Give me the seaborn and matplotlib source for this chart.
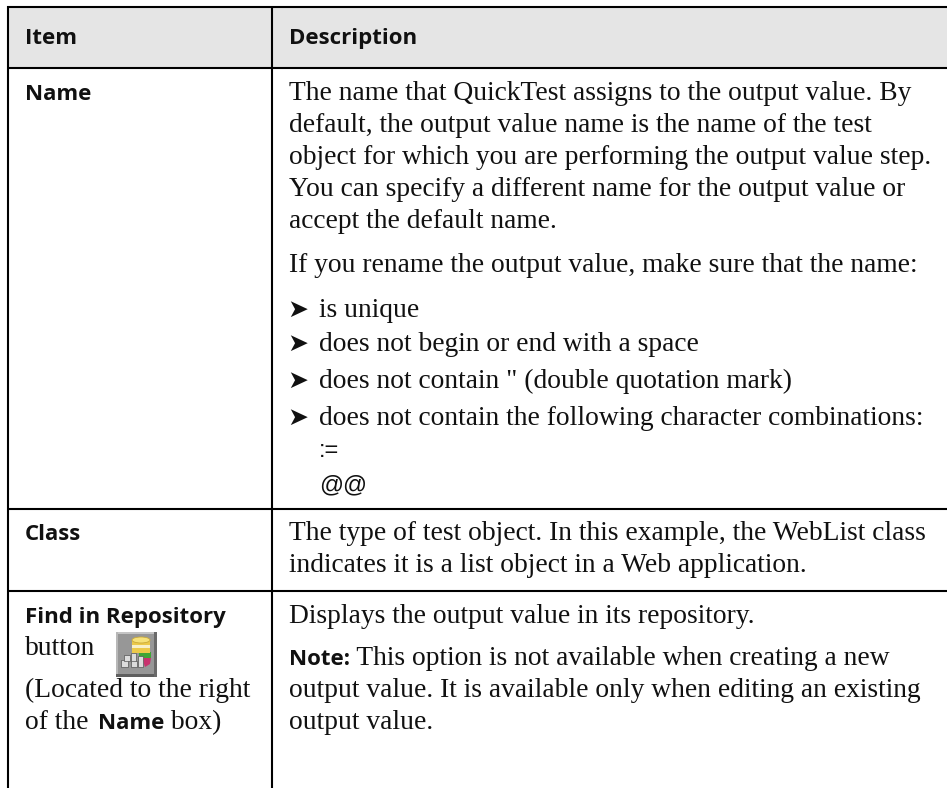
import matplotlib
matplotlib.use("Agg")
import matplotlib.pyplot as plt
from matplotlib.patches import Rectangle, Ellipse, Polygon
import seaborn as sns

# ---- table content ----
header_items = ["Item", "Description"]
name_desc = [
    "The name that QuickTest assigns to the output value. By",
    "default, the output value name is the name of the test",
    "object for which you are performing the output value step.",
    "You can specify a different name for the output value or",
    "accept the default name.",
]
rename_intro = "If you rename the output value, make sure that the name:"
rename_rules = [
    "is unique",
    "does not begin or end with a space",
    'does not contain " (double quotation mark)',
    "does not contain the following character combinations:",
]
rename_chars = [":=", "@@"]
class_desc = [
    "The type of test object. In this example, the WebList class",
    "indicates it is a list object in a Web application.",
]
find_desc = "Displays the output value in its repository."
note_label = "Note:"
note_lines = [
    " This option is not available when creating a new",
    "output value. It is available only when editing an existing",
    "output value.",
]

# ---- layout (pixels) ----
W, H = 947, 788
SERIF = "Liberation Serif"
SANS = "Open Sans"
BODY = 19.8
LABEL = 16.0

sns.set_theme(style="white")
fig = plt.figure(figsize=(W / 100, H / 100), dpi=100)
ax = fig.add_axes([0, 0, 1, 1])
ax.set_xlim(0, W)
ax.set_ylim(H, 0)
ax.axis("off")

ax.add_patch(Rectangle((8, 7), W - 8, 61, fc="#e5e5e5", ec="none", zorder=0))
lc = "#000000"
lw = 1.5
for y in (7, 68, 508.5, 591):
    ax.plot([7, W], [y, y], color=lc, lw=lw, solid_capstyle="butt")
for x in (8, 272):
    ax.plot([x, x], [6, H], color=lc, lw=lw, solid_capstyle="butt")


def serif(x, y, s, size=BODY):
    return ax.text(x, y, s, family=SERIF, size=size, color="#111111", va="baseline")


def bold(x, y, s, size=LABEL):
    return ax.text(x, y, s, family=SANS, weight="bold", size=size, color="#111111", va="baseline")


def after(t):
    fig.canvas.draw()
    return t.get_window_extent().x1


def icon():
    ax.add_patch(Rectangle((116, 632), 41, 45, fc="#979797", ec="none"))
    ax.add_patch(Rectangle((116, 632), 41, 2, fc="#c4c4c4", ec="none"))
    ax.add_patch(Rectangle((116, 632), 2, 45, fc="#b8b8b8", ec="none"))
    ax.add_patch(Rectangle((116, 674), 41, 3, fc="#5f5f5f", ec="none"))
    ax.add_patch(Rectangle((154, 632), 3, 45, fc="#6a6a6a", ec="none"))
    ax.add_patch(Polygon([(142, 658), (151, 658), (150, 664), (145, 667)], fc="#c8326e", ec="none"))
    ax.add_patch(Rectangle((139, 652), 12, 6, fc="#3fa535", ec="none"))
    ax.add_patch(Rectangle((132, 640), 18, 13, fc="#ecc94a", ec="none"))
    ax.add_patch(Rectangle((132, 645), 18, 3, fc="#f8f0c8", ec="none"))
    ax.add_patch(Ellipse((141, 640), 18, 6, fc="#f7e27a", ec="#c9a93a", lw=0.6))
    for x, y0, w, h in ((121, 660, 7, 7), (124, 655, 6, 6), (131, 653, 5, 9),
                        (131, 661, 6, 6), (138, 656, 5, 11)):
        ax.add_patch(Rectangle((x, y0), w, h, fc="#dcdcdc", ec="#555555", lw=0.5))


bold(25, 44, header_items[0])
bold(289, 44, header_items[1])
bold(25, 100, "Name")
for y, s in zip((100, 132, 164, 196, 228), name_desc):
    serif(289, y, s)
serif(289, 272, rename_intro)
for y, s in zip((317, 351, 388, 425), rename_rules):
    ax.text(287, y, "\u27a4", family="DejaVu Sans", size=18, color="#111111", va="baseline")
    serif(319, y, s)
ax.text(319, 457, rename_chars[0], family="Liberation Sans", size=17, color="#111111", va="baseline")
ax.text(319, 491, rename_chars[1], family="Liberation Sans", size=17, color="#111111", va="baseline")

bold(25, 540, "Class")
serif(289, 540, class_desc[0])
serif(289, 572, class_desc[1])

bold(25, 623, "Find in Repository")
serif(25, 655, "button")
icon()
serif(25, 697, "(Located to the right")
t = serif(25, 729, "of the ")
t2 = bold(after(t) + 3, 729, "Name")
serif(after(t2) - 1, 729, " box)")

serif(289, 623, find_desc)
t = bold(289, 665, note_label)
serif(after(t), 665, note_lines[0])
serif(289, 697, note_lines[1])
serif(289, 729, note_lines[2])

fig.savefig("out.png", dpi=100)
